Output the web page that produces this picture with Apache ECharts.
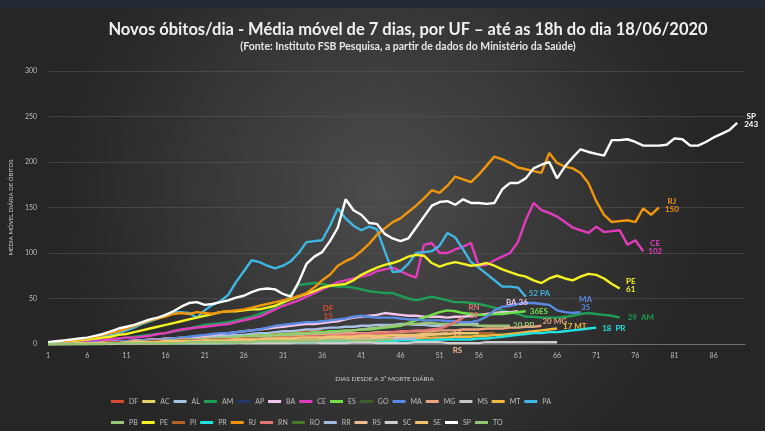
<!DOCTYPE html>
<html><head><meta charset="utf-8">
<script src="https://cdn.jsdelivr.net/npm/echarts@6/dist/echarts.min.js"></script>
<style>html,body{margin:0;padding:0;background:#2a2a2a;}#c{width:765px;height:431px;}</style>
</head><body><div id="c"></div>
<script>
// Categories: days since 3rd daily death
const days = Array.from({length: 90}, (_, i) => String(i + 1));
const yTicks = [0, 50, 100, 150, 200, 250, 300];

const ufNames = ['DF','AC','AL','AM','AP','BA','CE','ES','GO','MA','MG','MS','MT','PA','PB','PE','PI','PR','RJ','RN','RO','RR','RS','SC','SE','SP','TO'];
const ufColors = ['#d64c32','#e6d36a','#a8c2e6','#1f9e55','#26366b','#f2c6ea','#e23cbc','#6fe24a','#3f5f2c','#5b8ae2','#eda27e','#c6c6c6','#f1b73e','#3fb7e2','#9cc57c','#f4f321','#b5632c','#22e2e0','#f0960c','#e27476','#4b7a2c','#a3b9e0','#f1b992','#cfcfcf','#f1c470','#ffffff','#93c473'];

const DF = [0,0,1,1,1,1,2,2,2,3,3,3,4,4,4,5,5,5,6,6,6,7,7,8,8,9,9,10,10,11,11,12,13,13,14,15];
const AC = [0,0,0,0,1,1,1,1,1,1,1,2,2,2,2,2,2,3,3,3,3,3,3,4,4,4,4,4,4,5,5,5,5,5,6,6,6,6,6,6,7,7,7,7,6,6,6,6,6,6];
const AL = [0,0,1,1,1,1,2,2,2,3,3,3,4,4,5,5,6,6,7,7,8,8,9,9,10,10,11,12,12,13,14,14,15,16,16,17,18,18,19,19,20,20,21,21,21,22,22,21,21,20,20,21,21,22,22,22];
const AM = [1,1,1,2,2,3,3,4,5,6,7,8,9,10,11,12,14,15,17,19,21,22,23,24,26,28,30,33,36,40,44,55,65,66,67,66,64,63,63,62,60,58,57,56,56,53,50,48,50,52,50,48,46,46,45,44,42,40,37,35,33,30,30,29,29,29,30,31,33,34,33,32,31,29];
const AP = [0,0,0,1,1,1,1,1,2,2,2,2,2,3,3,3,3,4,4,4,4,5,5,5,5,6,6,6,6,7,7,7,7,7,8,8,8,8,8,7,7,7,7,6,6,6,6,5,5,5,5,5];
const BA = [0,0,1,1,1,2,2,2,3,3,3,4,4,5,5,6,6,7,7,8,9,10,11,12,13,14,15,16,17,18,19,20,21,22,22,23,24,25,27,29,30,31,32,34,33,32,31,31,30,30,30,29,30,30,31,32,33,34,35,35,36];
const CE = [1,1,2,2,3,3,4,5,5,6,7,7,8,9,11,12,14,16,17,18,19,20,21,22,24,26,28,30,34,38,42,45,48,52,56,60,64,68,70,72,74,76,80,82,84,80,76,73,109,111,100,100,104,107,111,86,87,92,96,100,112,136,155,147,144,140,134,128,125,122,129,123,124,125,109,114,102];
const ES = [0,0,0,1,1,1,1,2,2,2,2,3,3,3,4,4,4,5,5,5,6,6,7,7,8,8,9,9,10,10,11,11,12,12,13,13,14,14,15,15,16,16,17,18,19,20,23,26,29,32,35,37,36,34,33,32,32,33,33,34,35,36];
const GO = [0,0,0,0,1,1,1,1,1,1,2,2,2,2,2,2,3,3,3,3,3,4,4,4,4,4,5,5,5,5,5,6,6,6,6,6,7,7,7,7,7,8,8,8,8,8,9,9,9,9,9,10,10,10,10,10,10,11,11,11];
const MA = [0,0,1,1,1,1,2,2,2,3,3,3,4,4,5,5,6,7,8,9,10,11,12,12,13,14,15,16,18,20,21,22,23,24,24,25,26,27,28,30,31,30,29,29,29,28,27,27,26,26,26,25,25,24,24,26,30,37,41,42,44,45,45,44,43,37,35,34,35];
const MG = [0,0,0,1,1,1,1,2,2,2,2,3,3,3,4,4,4,5,5,5,6,6,6,7,7,7,8,8,8,9,9,9,10,10,10,11,11,11,12,12,12,12,13,13,13,13,14,14,14,14,15,15,15,16,16,16,17,17,17,18,18,19,19,20];
const MS = [0,0,0,0,0,0,0,0,1,1,1,1,1,1,1,1,1,1,1,1,1,1,1,1,1,2,2,2,2,2,2,2,2,2,2,2,2,2,2,2,2,2,2,2,2];
const MT = [0,0,0,0,0,0,0,1,1,1,1,1,1,1,1,1,1,1,2,2,2,2,2,2,2,2,3,3,3,3,3,3,3,4,4,4,4,4,4,5,5,5,5,5,6,6,6,6,7,7,7,7,8,8,8,9,9,10,10,11,12,13,14,15,16,17];
const PA = [1,1,2,3,4,5,6,8,10,12,15,18,22,25,28,32,35,35,34,29,37,43,47,54,68,80,92,90,86,83,86,91,100,112,113,114,130,149,138,130,125,129,126,102,79,80,88,100,101,102,108,122,117,104,90,84,77,70,63,63,62,52];
const PB = [0,0,0,1,1,1,1,1,2,2,2,2,3,3,3,4,4,4,5,5,5,6,6,7,7,7,8,8,9,9,10,10,11,11,12,12,13,13,14,15,16,17,18,19,20,21,22,22,23,23,22,22,21,21,21,20,20,20,20,20];
const PE = [1,1,2,3,4,5,6,7,8,10,11,13,15,17,19,21,23,25,27,29,31,33,35,36,36,37,38,38,40,42,46,49,52,55,58,62,64,65,66,70,76,80,84,87,89,92,96,98,97,89,85,88,90,88,86,87,89,86,82,79,76,74,70,67,72,75,72,70,74,77,76,72,66,61];
const PI = [0,0,0,1,1,1,1,1,2,2,2,2,2,3,3,3,3,4,4,4,4,5,5,5,5,6,6,6,6,7,7,7,7,8,8,8,8,8,9,9,9,9,9,10,10,10,10,10,11,11,11,11,11,12,12,12,12,12];
const PR = [0,0,0,0,0,0,0,0,1,1,1,1,1,1,1,1,1,1,1,1,1,1,1,1,2,2,2,2,2,2,2,2,2,2,2,2,3,3,3,3,3,3,3,3,3,4,4,4,4,4,5,5,5,5,5,6,6,7,8,9,10,11,12,12,13,13,14,15,16,17,18];
const RJ = [1,2,3,4,5,6,8,10,12,14,17,20,23,26,28,30,33,34,33,35,34,33,35,36,37,38,40,42,44,46,48,50,53,56,62,70,76,86,91,95,102,110,120,127,134,138,145,152,160,169,166,174,184,181,178,186,196,206,203,199,194,192,190,188,210,199,195,193,188,177,157,142,134,135,136,134,149,142,150];
const RN = [0,0,0,0,1,1,1,1,1,1,2,2,2,2,2,3,3,3,3,4,4,4,4,5,5,5,5,6,6,6,7,7,7,8,8,8,9,9,10,10,11,11,12,12,13,14,14,15,15,16,17,20,24,29];
const RO = [0,0,0,0,0,1,1,1,1,1,1,2,2,2,2,2,3,3,3,3,3,4,4,4,4,4,5,5,5,5,5,6,6,6,6,6,7,7,7,7,7,8,8,8,8,8,9,9,9,9];
const RR = [0,0,0,0,0,0,1,1,1,1,1,1,1,1,2,2,2,2,2,2,2,3,3,3,3,3,3,3,4,4,4,4,4,4,4,5,5,5,5,5,5,5,6,6,6,6,6,6];
const RS = [0,0,0,0,0,0,1,1,1,1,1,1,1,1,1,1,2,2,2,2,2,2,2,2,3,3,3,3,3,3,4,4,4,4,4,5,5,5,5,6,6,6,7,7,7,8,8,9,9,10,11,12];
const SC = [0,0,0,0,0,0,0,0,0,1,1,1,1,1,1,1,2,1,1,1,1,1,1,2,2,1,1,1,1,1,1,1,2,2,2,1,1,1,1,2,2,2,1,1,1,1,1,2,2,2,2,1,1,1,1,1,2,2,2,2,2,2,2,2,2,2];
const SE = [0,0,0,0,1,1,1,1,1,1,2,2,2,2,2,3,3,3,3,3,4,4,4,4,5,5,5,5,6,6,6,6,7,7,7,7,8,8,8,8,9,9,9,9,10,10,10,10,11,11,11,11,12,12,12,12];
const SP = [2,3,4,5,6,7,9,11,14,17,19,21,24,27,29,32,36,41,45,46,43,44,46,48,51,53,57,60,61,60,55,52,68,88,96,101,113,128,159,147,142,133,132,121,116,113,116,128,140,152,156,157,153,159,155,155,154,155,170,177,177,182,193,197,200,182,195,205,214,211,209,207,224,224,225,222,218,218,218,219,226,225,218,218,222,227,231,235,243];
const TO = [0,0,0,0,0,0,0,0,1,1,1,1,1,1,1,1,1,1,2,2,2,2,2,2,2,2,2,3,3,3,3,3,3,3,3,4,4,4,4,4,4,4,4,5,5];

const ufData = {DF,AC,AL,AM,AP,BA,CE,ES,GO,MA,MG,MS,MT,PA,PB,PE,PI,PR,RJ,RN,RO,RR,RS,SC,SE,SP,TO};

// End labels: text template + placement
const endLabels = {
  SP: {fmt: '{a}\n{c}', align: 'center', offset: [14, -2]},
  RJ: {fmt: '{a}\n{c}', align: 'center', offset: [13, -2]},
  CE: {fmt: '{a}\n{c}', align: 'center', offset: [12, -4]},
  PE: {fmt: '{a}\n{c}', align: 'center', offset: [11, -3]},
  PA: {fmt: '{c} {a}', align: 'left', offset: [3, -3]},
  MA: {fmt: '{a}\n{c}', align: 'center', offset: [5, -9]},
  AM: {fmt: '{c}  {a}', align: 'left', offset: [8, 0]},
  PR: {fmt: '{c}  {a}', align: 'left', offset: [6, 1]},
  BA: {fmt: '{a} {c}', align: 'center', offset: [-1, -9]},
  ES: {fmt: '{c}{a}', align: 'left', offset: [4, 0]},
  PB: {fmt: '{c} {a}', align: 'left', offset: [3, 0]},
  MG: {fmt: '{c} {a}', align: 'left', offset: [1, -4]},
  MT: {fmt: '{c} {a}', align: 'left', offset: [6, -2]},
  RN: {fmt: '{a}\n{c}', align: 'center', offset: [11, -6]},
  DF: {fmt: '{a}\n{c}', align: 'center', offset: [6, -18]},
  RS: {fmt: '{c}\n\n{a}', align: 'center', offset: [10, 9]}
};

const FONT = 'Lato, "Open Sans", sans-serif';

const series = ufNames.map((n, i) => {
  const el = endLabels[n];
  return {
    name: n, type: 'line', data: ufData[n], symbol: 'none', smooth: false,
    lineStyle: {width: 2.4, color: ufColors[i]},
    itemStyle: {color: ufColors[i]},
    emphasis: {disabled: true},
    endLabel: el ? {
      show: true,
      formatter: p => el.fmt.replace('{a}', p.seriesName).replace('{c}', p.value),
      align: el.align, verticalAlign: 'middle', distance: 0, offset: el.offset,
      color: ufColors[i], fontSize: 8, fontWeight: 'bold', lineHeight: 8, fontFamily: FONT
    } : {show: false}
  };
});

const legendBase = {
  icon: 'rect', itemWidth: 13, itemHeight: 3, itemGap: 4, left: 106,
  formatter: name => '{t|' + name + '}',
  textStyle: {color: '#bdbdbd', fontSize: 7, fontFamily: FONT,
    rich: {t: {width: 21, fontSize: 7, color: '#bdbdbd', fontFamily: FONT}}},
  selectedMode: false
};

const chart = echarts.init(document.getElementById('c'), null, {renderer: 'canvas'});
chart.setOption({
  animation: false,
  backgroundColor: {
    type: 'radial', x: 0.5, y: 0.45, r: 0.75,
    colorStops: [{offset: 0, color: '#4c4c4c'}, {offset: 1, color: '#262626'}]
  },
  graphic: [{type: 'rect', shape: {x: 0, y: 0, width: 765, height: 8}, style: {fill: '#232a33'}, silent: true}],
  title: {
    text: 'Novos óbitos/dia - Média móvel de 7 dias, por UF – até as 18h do dia 18/06/2020',
    subtext: '(Fonte: Instituto FSB Pesquisa, a partir de dados do Ministério da Saúde)',
    left: 403, top: 16, textAlign: 'center', itemGap: 3,
    textStyle: {color: '#f0f0f0', fontSize: 16.5, fontWeight: 'bold', fontFamily: FONT},
    subtextStyle: {color: '#e6e6e6', fontSize: 10.5, fontWeight: 'bold', fontFamily: FONT}
  },
  grid: {left: 43, right: 20, top: 71, bottom: 87, containLabel: false},
  xAxis: {
    type: 'category', data: days, boundaryGap: false,
    name: 'DIAS DESDE A 3ª MORTE DIÁRIA', nameLocation: 'middle', nameGap: 31,
    nameTextStyle: {color: '#cfcfcf', fontSize: 6.5, fontFamily: FONT, padding: [0, 24, 0, 0]},
    axisLine: {lineStyle: {color: '#707070'}},
    axisTick: {show: false},
    axisLabel: {interval: 4, color: '#bdbdbd', fontSize: 7, margin: 8, fontFamily: FONT},
    splitLine: {show: false}
  },
  yAxis: {
    type: 'value', min: 0, max: 300, interval: 50,
    name: 'MÉDIA MÓVEL DIÁRIA DE ÓBITOS', nameLocation: 'middle', nameGap: 29, nameRotate: 90,
    nameTextStyle: {color: '#cfcfcf', fontSize: 6, fontFamily: FONT},
    axisLine: {show: false}, axisTick: {show: false},
    axisLabel: {color: '#bdbdbd', fontSize: 7, margin: 11, fontFamily: FONT,
      formatter: v => yTicks.includes(v) ? String(v) : ''},
    splitLine: {lineStyle: {color: '#565656', width: 0.6}}
  },
  legend: [
    Object.assign({}, legendBase, {top: 393, data: ufNames.slice(0, 14)}),
    Object.assign({}, legendBase, {top: 414, data: ufNames.slice(14)})
  ],
  series: series
});
</script></body></html>
